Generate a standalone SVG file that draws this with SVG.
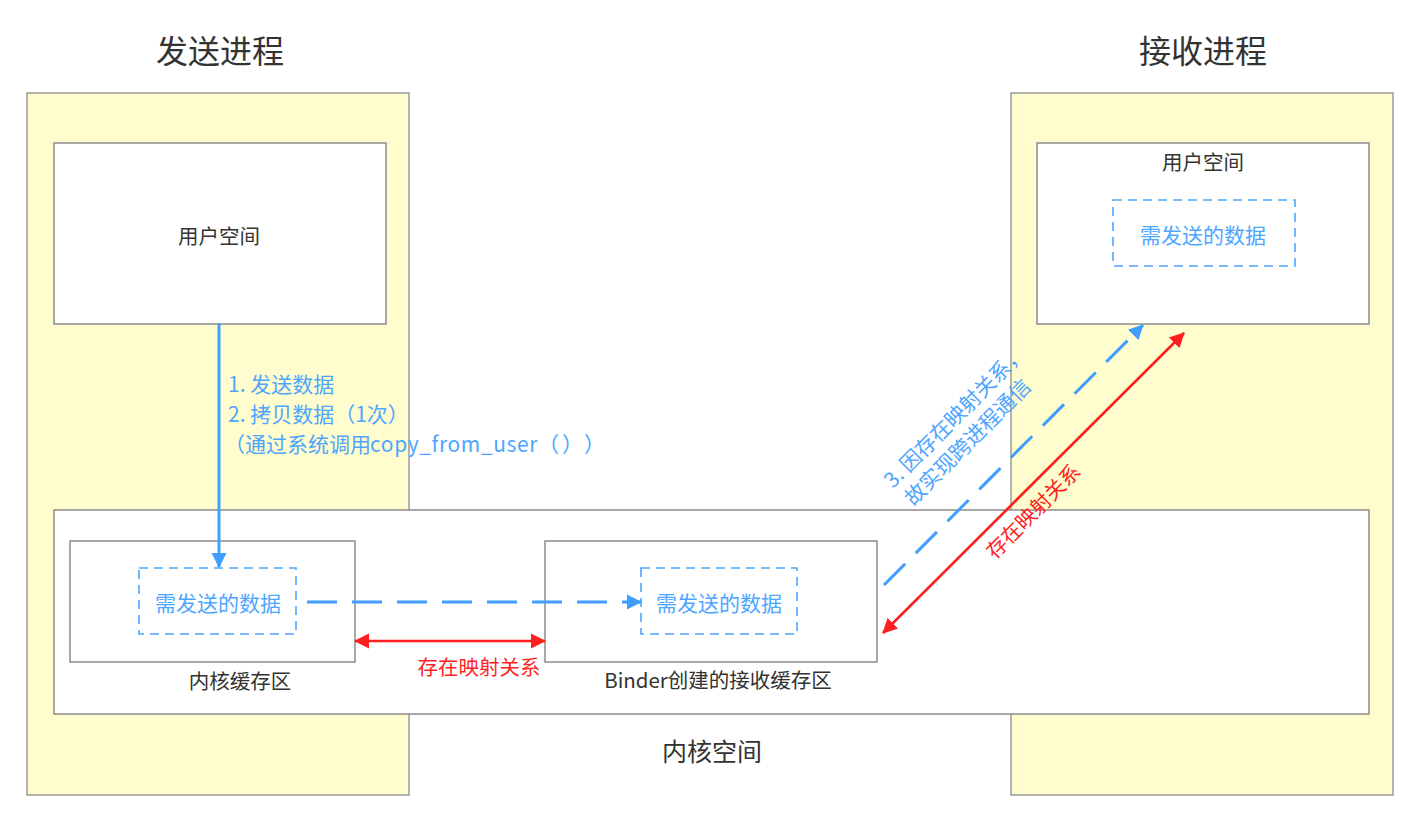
<svg xmlns="http://www.w3.org/2000/svg" width="1404" height="826" viewBox="0 0 1404 826">
<defs>
<style>
text{font-family:"Noto Sans CJK SC","Noto Sans",sans-serif}
.panel{fill:#fffdcd;stroke:#9a9a9a;stroke-width:1.5}
.box{fill:#ffffff;stroke:#8c8c8c;stroke-width:1.5}
.dash{fill:#ffffff;stroke:#4ea6ff;stroke-width:1.6;stroke-dasharray:9 6}
.title{font-size:32px;fill:#333333;text-anchor:middle}
.lbl{font-size:20.5px;fill:#333333;text-anchor:middle}
.blue{font-size:21px;fill:#4ea6ff}
.red{font-size:20.5px;fill:#ff1f1f}
.bl{stroke:#3f9eff;stroke-width:3;fill:none}
.rl{stroke:#ff1f1f;stroke-width:2.6;fill:none}
</style>
<marker id="ab" markerUnits="userSpaceOnUse" markerWidth="17" markerHeight="17" refX="14" refY="8.5" orient="auto-start-reverse" viewBox="0 0 17 17"><path d="M0,1 L15,8.5 L0,16 z" fill="#3f9eff"/></marker>
<marker id="ar" markerUnits="userSpaceOnUse" markerWidth="17" markerHeight="17" refX="14" refY="8.5" orient="auto-start-reverse" viewBox="0 0 17 17"><path d="M0,1 L15,8.5 L0,16 z" fill="#ff1f1f"/></marker>
</defs>
<rect width="1404" height="826" fill="#ffffff"/>

<g id="send-process">
<rect class="panel" x="27" y="93" width="382" height="702"/>
<text class="title" x="220" y="63">发送进程</text>
</g>
<g id="recv-process">
<rect class="panel" x="1011" y="93" width="382" height="702"/>
<text class="title" x="1203" y="63">接收进程</text>
</g>

<g id="send-user-space">
<rect class="box" x="54" y="143" width="332" height="181"/>
<text class="lbl" x="219" y="244">用户空间</text>
</g>

<g id="recv-user-space">
<rect class="box" x="1037" y="143" width="332" height="181"/>
<text class="lbl" x="1203" y="170">用户空间</text>
</g>
<g id="recv-data">
<rect class="dash" x="1113" y="200" width="182" height="66"/>
<text class="blue" x="1203" y="243" text-anchor="middle">需发送的数据</text>
</g>

<g id="kernel-space">
<rect class="box" x="54" y="510" width="1315" height="204"/>
<text x="712" y="761" font-size="25" fill="#333333" text-anchor="middle">内核空间</text>
</g>

<g id="kernel-buffer">
<rect class="box" x="70" y="541" width="285" height="121"/>
<text class="lbl" x="240" y="689">内核缓存区</text>
</g>
<g id="send-data">
<rect class="dash" x="139" y="568" width="157" height="66"/>
<text class="blue" x="218" y="611" text-anchor="middle">需发送的数据</text>
</g>

<g id="binder-buffer">
<rect class="box" x="545" y="541" width="332" height="121"/>
<text class="lbl" x="718" y="688" font-size="20">Binder创建的接收缓存区</text>
</g>
<g id="binder-data">
<rect class="dash" x="641" y="568" width="156" height="66"/>
<text class="blue" x="719" y="611" text-anchor="middle">需发送的数据</text>
</g>

<g id="connectors">
<line class="bl" x1="219" y1="323" x2="219" y2="567" marker-end="url(#ab)"/>
<line class="bl" x1="307" y1="602" x2="641" y2="602" stroke-dasharray="30 15" marker-end="url(#ab)"/>
<line class="rl" x1="355" y1="641" x2="545" y2="641" marker-start="url(#ar)" marker-end="url(#ar)"/>
<line class="bl" x1="884" y1="585" x2="1143" y2="325" stroke-dasharray="30 15" marker-end="url(#ab)"/>
<line class="rl" x1="883" y1="633" x2="1184" y2="333" marker-start="url(#ar)" marker-end="url(#ar)"/>

<text class="blue" x="228" y="392">1. 发送数据</text>
<text class="blue" x="228" y="422">2. 拷贝数据（1次）</text>
<text class="blue" x="224" y="452">（通过系统调用<tspan x="370" letter-spacing="0.6">copy_from_user</tspan><tspan x="538">（</tspan><tspan x="562">）</tspan><tspan x="584">）</tspan></text>
<text class="red" x="479" y="675" text-anchor="middle">存在映射关系</text>
<g transform="translate(893,489) rotate(-45)">
<text class="blue" x="0" y="0">3. 因存在映射关系，</text>
<text class="blue" x="2" y="27">故实现跨进程通信</text>
</g>
<text class="red" transform="translate(995,560) rotate(-45)">存在映射关系</text>
</g>
</svg>
